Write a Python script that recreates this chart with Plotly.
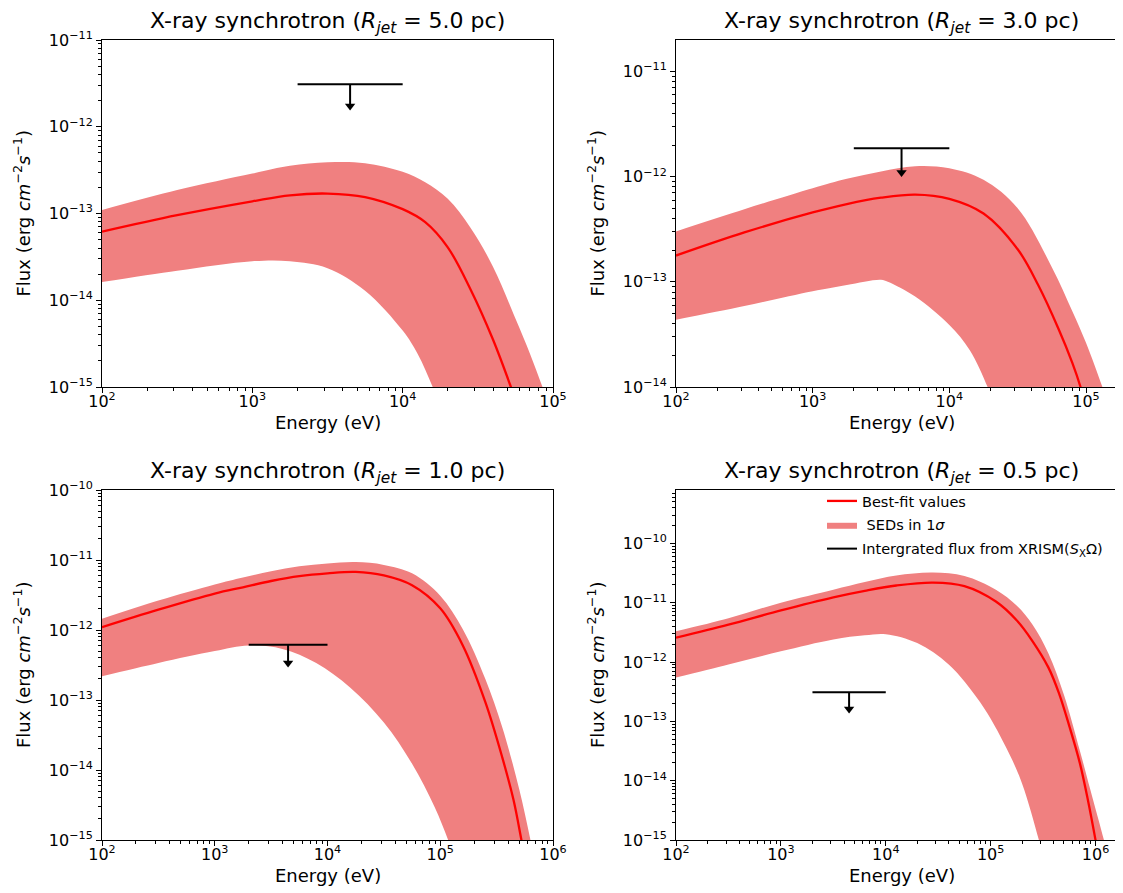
import plotly.graph_objects as go

# ---------------- data (log10 units) ----------------
# Panel 1: R_jet = 5.0 pc
p1_best_logE = [2.0, 2.5, 3.0, 3.25, 3.5, 3.75, 4.0, 4.15, 4.3, 4.45, 4.6, 4.72, 4.8]
p1_best_logF = [-13.21, -13.02, -12.86, -12.79, -12.77, -12.81, -12.95, -13.10, -13.39, -13.87, -14.45, -15.0, -15.4]
p1_up_logE = [2.0, 2.5, 3.0, 3.25, 3.5, 3.75, 4.0, 4.15, 4.3, 4.45, 4.6, 4.75, 4.85, 4.93, 5.0]
p1_up_logF = [-12.96, -12.73, -12.54, -12.45, -12.41, -12.42, -12.52, -12.64, -12.83, -13.16, -13.61, -14.21, -14.63, -15.0, -15.35]
p1_lo_logE = [2.0, 2.5, 3.0, 3.25, 3.5, 3.75, 4.0, 4.1, 4.2, 4.28]
p1_lo_logF = [-13.79, -13.66, -13.55, -13.55, -13.63, -13.89, -14.35, -14.62, -15.0, -15.35]
p1_limit_logF = -11.51
p1_tip_logF = -11.76

# Panel 2: R_jet = 3.0 pc
p2_best_logE = [2.0, 2.5, 3.0, 3.25, 3.5, 3.75, 4.0, 4.25, 4.5, 4.65, 4.8, 4.9, 4.96, 5.02]
p2_best_logF = [-12.75, -12.53, -12.34, -12.26, -12.20, -12.17, -12.21, -12.35, -12.69, -13.03, -13.45, -13.77, -14.0, -14.3]
p2_up_logE = [2.0, 2.5, 3.0, 3.25, 3.5, 3.75, 4.0, 4.25, 4.5, 4.75, 4.9, 5.0, 5.12, 5.2]
p2_up_logF = [-12.52, -12.31, -12.11, -12.02, -11.95, -11.90, -11.92, -12.03, -12.30, -12.86, -13.28, -13.58, -14.0, -14.3]
p2_lo_logE = [2.0, 2.5, 3.0, 3.25, 3.5, 3.55, 3.75, 4.0, 4.15, 4.28, 4.35]
p2_lo_logF = [-13.36, -13.23, -13.09, -13.03, -12.98, -13.00, -13.14, -13.41, -13.65, -14.0, -14.25]
p2_limit_logF = -11.73
p2_tip_logF = -11.96

# Panel 3: R_jet = 1.0 pc
p3_best_logE = [2.0, 2.5, 3.0, 3.25, 3.5, 3.75, 4.0, 4.25, 4.5, 4.75, 5.0, 5.2, 5.4, 5.55, 5.65, 5.72, 5.78]
p3_best_logF = [-11.96, -11.71, -11.48, -11.39, -11.30, -11.23, -11.19, -11.17, -11.22, -11.36, -11.69, -12.22, -13.03, -13.82, -14.43, -15.0, -15.5]
p3_up_logE = [2.0, 2.5, 3.0, 3.25, 3.5, 3.75, 4.0, 4.25, 4.5, 4.75, 5.0, 5.2, 5.4, 5.55, 5.7, 5.8, 5.86]
p3_up_logF = [-11.84, -11.58, -11.35, -11.25, -11.16, -11.09, -11.05, -11.03, -11.07, -11.19, -11.51, -11.99, -12.70, -13.39, -14.27, -15.0, -15.5]
p3_lo_logE = [2.0, 2.5, 3.0, 3.3, 3.6, 3.9, 4.2, 4.5, 4.75, 4.95, 5.07, 5.15]
p3_lo_logF = [-12.66, -12.47, -12.30, -12.22, -12.27, -12.47, -12.82, -13.32, -13.91, -14.53, -15.0, -15.35]
p3_limit_logF = -12.21
p3_tip_logF = -12.47

# Panel 4: R_jet = 0.5 pc
p4_best_logE = [2.0, 2.5, 3.0, 3.5, 3.8, 4.1, 4.45, 4.75, 5.05, 5.25, 5.4, 5.55, 5.65, 5.75, 5.85, 5.93, 6.0, 6.05]
p4_best_logF = [-11.59, -11.37, -11.13, -10.91, -10.80, -10.71, -10.66, -10.72, -10.98, -11.30, -11.65, -12.09, -12.52, -13.08, -13.70, -14.35, -15.0, -15.5]
p4_up_logE = [2.0, 2.5, 3.0, 3.5, 3.8, 4.1, 4.45, 4.75, 5.05, 5.25, 5.4, 5.55, 5.7, 5.85, 5.95, 6.08, 6.13]
p4_up_logF = [-11.48, -11.26, -11.00, -10.78, -10.65, -10.54, -10.49, -10.55, -10.78, -11.05, -11.37, -11.85, -12.56, -13.49, -14.15, -15.0, -15.35]
p4_lo_logE = [2.0, 2.5, 3.0, 3.5, 3.8, 4.0, 4.3, 4.6, 4.9, 5.15, 5.3, 5.46, 5.52]
p4_lo_logF = [-12.26, -12.04, -11.82, -11.62, -11.55, -11.53, -11.68, -12.04, -12.68, -13.45, -14.05, -15.0, -15.4]
p4_limit_logF = -12.51
p4_tip_logF = -12.79

limit_E_lo = 2e3
limit_E_hi = 1e4
limit_E_mid = 4.47e3

titles = ["5.0", "3.0", "1.0", "0.5"]
x_ranges = [[2, 5], [2, 5.3], [2, 6], [2, 6.3]]
y_ranges = [[-15, -11], [-14, -10.7], [-15, -10], [-15, -9.1]]
x_tick_exp = [[2, 3, 4, 5], [2, 3, 4, 5], [2, 3, 4, 5, 6], [2, 3, 4, 5, 6]]
y_tick_exp = [[-15, -14, -13, -12, -11], [-14, -13, -12, -11], [-15, -14, -13, -12, -11, -10],
              [-15, -14, -13, -12, -11, -10]]

panels = [
    (p1_best_logE, p1_best_logF, p1_up_logE, p1_up_logF, p1_lo_logE, p1_lo_logF, p1_limit_logF, p1_tip_logF),
    (p2_best_logE, p2_best_logF, p2_up_logE, p2_up_logF, p2_lo_logE, p2_lo_logF, p2_limit_logF, p2_tip_logF),
    (p3_best_logE, p3_best_logF, p3_up_logE, p3_up_logF, p3_lo_logE, p3_lo_logF, p3_limit_logF, p3_tip_logF),
    (p4_best_logE, p4_best_logF, p4_up_logE, p4_up_logF, p4_lo_logE, p4_lo_logF, p4_limit_logF, p4_tip_logF),
]

# ---------------- layout geometry ----------------
W, H = 1123, 893
px_x = [(94, 545), (668, 1119), (94, 545), (668, 1119)]
px_y = [(32, 379), (32, 379), (482, 832), (482, 832)]

FONT = "DejaVu Sans"
BAND = "#F08080"


def tolin(vals):
    return [10.0 ** v for v in vals]


def sup(e):
    return "10<sup>" + ("\u2212" + str(-e) if e < 0 else str(e)) + "</sup>"


fig = go.Figure()
layout = dict(width=W, height=H, margin=dict(l=0, r=0, t=0, b=0),
              paper_bgcolor="white", plot_bgcolor="white",
              font=dict(family=FONT, color="black", size=15))
annotations = []

for i, (bE, bF, uE, uF, lE, lF, lim, tip) in enumerate(panels):
    n = i + 1
    xa = "x" if n == 1 else f"x{n}"
    ya = "y" if n == 1 else f"y{n}"
    leg = (n == 4)
    fig.add_trace(go.Scatter(x=tolin(lE), y=tolin(lF), mode="lines",
                             line=dict(width=0, color=BAND, shape="spline", smoothing=1.0),
                             xaxis=xa, yaxis=ya, showlegend=False, hoverinfo="skip"))
    fig.add_trace(go.Scatter(x=tolin(uE), y=tolin(uF), mode="lines", fill="tonexty", fillcolor=BAND,
                             line=dict(width=0, color=BAND, shape="spline", smoothing=1.0),
                             xaxis=xa, yaxis=ya, name=" SEDs in 1<i>σ</i>", showlegend=leg,
                             legendgroup="b", legendrank=2))
    fig.add_trace(go.Scatter(x=tolin(bE), y=tolin(bF), mode="lines",
                             line=dict(width=2.3, color="red", shape="spline", smoothing=1.0),
                             xaxis=xa, yaxis=ya, name="Best-fit values", showlegend=leg,
                             legendgroup="a", legendrank=1))
    fig.add_trace(go.Scatter(x=[limit_E_lo, limit_E_hi], y=[10.0 ** lim, 10.0 ** lim], mode="lines",
                             line=dict(width=2, color="black"), xaxis=xa, yaxis=ya,
                             name="Intergrated flux from XRISM(<i>S</i><sub>X</sub>Ω)", showlegend=leg,
                             legendgroup="c", legendrank=3))
    fig.add_trace(go.Scatter(x=[limit_E_mid, limit_E_mid], y=[10.0 ** lim, 10.0 ** tip], mode="lines",
                             line=dict(width=2, color="black"), xaxis=xa, yaxis=ya, showlegend=False))
    fig.add_trace(go.Scatter(x=[limit_E_mid], y=[10.0 ** tip], mode="markers",
                             marker=dict(symbol="triangle-down", size=9, color="black"),
                             xaxis=xa, yaxis=ya, showlegend=False))

    x0, x1 = px_x[i]
    y0, y1 = px_y[i]
    minor_x = [k * 10 ** e for e in range(1, 8) for k in range(2, 10)]
    minor_y = [k * 10.0 ** e for e in range(-17, -7) for k in range(2, 10)]
    axis_common = dict(type="log", showline=True, linecolor="black", linewidth=1, mirror=True,
                       ticks="outside", ticklen=5, tickwidth=1, tickcolor="black", showgrid=False,
                       zeroline=False, automargin=False, tickfont=dict(family=FONT, size=16, color="black"))
    layout["xaxis" if n == 1 else f"xaxis{n}"] = dict(
        axis_common, domain=[x0 / W, x1 / W], range=x_ranges[i], anchor=ya, ticklabelstandoff=-5,
        tickvals=[10 ** e for e in x_tick_exp[i]], ticktext=[sup(e) for e in x_tick_exp[i]],
        minor=dict(tickvals=minor_x, ticks="outside", ticklen=3, tickwidth=0.8, tickcolor="black", showgrid=False))
    layout["yaxis" if n == 1 else f"yaxis{n}"] = dict(
        axis_common, domain=[1 - y1 / H, 1 - y0 / H], range=y_ranges[i], anchor=xa,
        tickvals=[10.0 ** e for e in y_tick_exp[i]], ticktext=[sup(e) for e in y_tick_exp[i]],
        minor=dict(tickvals=minor_y, ticks="outside", ticklen=3, tickwidth=0.8, tickcolor="black", showgrid=False))

    cx = (x0 + x1) / 2 / W
    annotations.append(dict(text=f"X-ray synchrotron (<i>R</i><sub><i>jet</i></sub> = {titles[i]} pc)",
                            x=cx, y=1 - (y0 - 17) / H, xref="paper", yref="paper", showarrow=False,
                            xanchor="center", yanchor="middle", font=dict(family=FONT, size=22)))
    annotations.append(dict(text="Energy (eV)", x=cx, y=1 - (y1 + 35) / H, xref="paper", yref="paper",
                            showarrow=False, xanchor="center", yanchor="middle", font=dict(family=FONT, size=18)))
    annotations.append(dict(text="Flux (erg <i>cm</i><sup>\u22122</sup><i>s</i><sup>\u22121</sup>)",
                            x=(x0 - 80) / W, y=1 - (y0 + y1) / 2 / H, xref="paper", yref="paper",
                            showarrow=False, textangle=-90, xanchor="center", yanchor="middle",
                            font=dict(family=FONT, size=18)))

layout["annotations"] = annotations
layout["legend"] = dict(x=814 / W, y=1 - 477 / H, xanchor="left", yanchor="top",
                        bgcolor="rgba(255,255,255,0)", borderwidth=0, tracegroupgap=2,
                        font=dict(family=FONT, size=14.5, color="black"), itemwidth=30)
fig.update_layout(**layout)
fig.write_html("out.html")
